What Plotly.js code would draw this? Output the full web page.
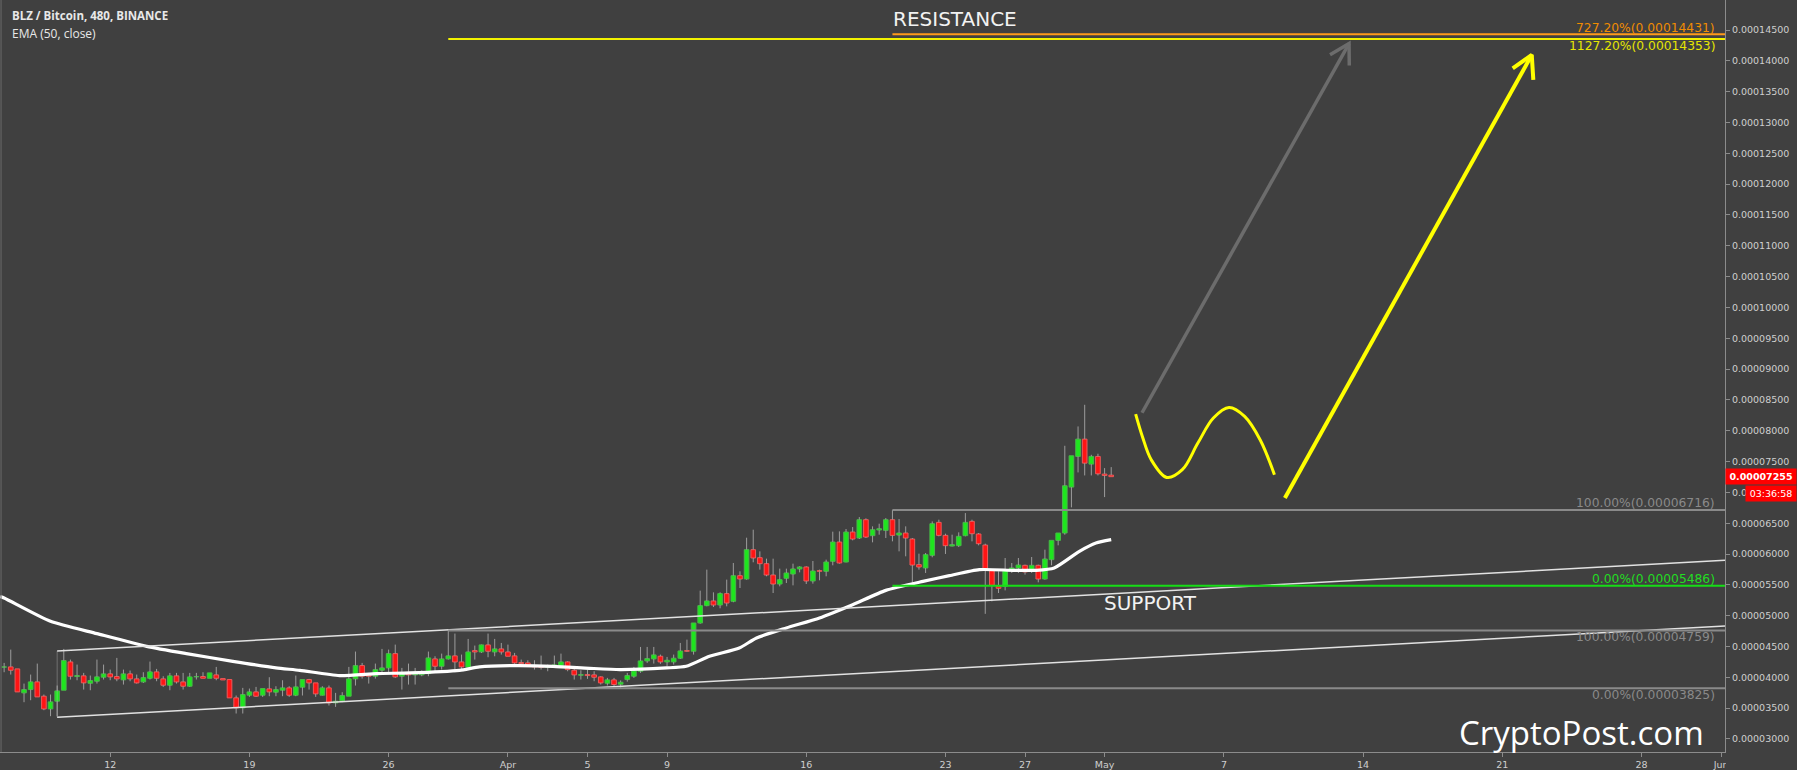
<!DOCTYPE html>
<html><head><meta charset="utf-8">
<script src="https://cdn.plot.ly/plotly-3.0.1.min.js"></script>
<style>html,body{margin:0;padding:0;background:#404040;}#chart{width:1797px;height:770px;}</style>
</head><body><div id="chart"></div>
<script>
// ---------- DATA (prices in satoshi = 1e-8 BTC) ----------
const candleStart = '2018-03-06T16:00:00Z';   // first visible 480-minute candle
const candleHours = 8;
const opens = [4165,4169,4137,3748,3802,3926,3694,3488,3613,3791, 4250,4013,4024,3904,3937,4002,4056,4013,3959,4056,
 3975,3926,3985,4088,3975,3872,4024,3926,3856,4008, 4013,3985,4040,3980,3964,3667,3505,3710,3764,3710,
 3813,3759,3791,3829,3710,3840,3964,3910,3710,3829, 3586,3618,3694,3975,4191,4045,4018,4115,4153,4385,
 4018,4072,4040,4040,4061,4299,4180,4299,4348,4250, 4164,4434,4412,4526,4412,4461,4412,4348,4240,4234,
 4191,4180,4164,4169,4191,4250,4115,4034,4045,4040, 4007,3904,3959,3888,3964,4018,4099,4266,4299,4342,
 4250,4250,4310,4434,4423,4882,5163,5239,5174,5358, 5233,5649,5595,6071,5941,5844,5660,5514,5606,5676,
 5758,5790,5563,5731,5720,5882,6195,5871,6357,6260, 6557,6298,6390,6384,6557,6308,6341,6244,5828,5774,
 5979,6514,6303,6130,6136,6298,6530,6325,6146,5747, 5476,5476,5747,5774,5817,5720,5817,5595,5909,6222,
 6341,7086,7583,7864,7459,7583,7297,7280];
const highs = [4234,4450,4137,3899,4045,4223,3721,3721,3867,4461, 4288,4207,4072,4029,4288,4207,4126,4315,4126,4110,
 4045,4083,4256,4137,4018,4072,4072,4072,4072,4072, 4083,4072,4169,3980,3964,3705,3829,3818,3845,3818,
 4002,3856,3953,3856,4029,3964,3975,3910,3856,3867, 3748,3759,4169,4418,4234,4072,4223,4461,4450,4531,
 4153,4223,4153,4115,4418,4342,4385,4759,4710,4369, 4623,4515,4531,4710,4623,4558,4531,4396,4288,4277,
 4277,4353,4207,4353,4385,4261,4153,4115,4126,4099, 4018,3991,3991,3950,4072,4169,4493,4493,4493,4369,
 4331,4369,4558,4612,4882,5406,5747,5379,5379,5585, 5855,5720,6265,6395,6044,5925,5925,5763,5763,5844,
 5801,5801,5887,5747,5909,6363,6368,6406,6438,6600, 6579,6449,6492,6584,6716,6568,6449,6260,6006,6017,
 6530,6557,6330,6314,6352,6665,6557,6341,6168,5758, 5720,5936,5855,5936,5828,5952,5828,6071,6222,6341,
 7756,7594,8070,8421,7610,7627,7394,7410];
const lows = [4083,4045,3764,3597,3629,3683,3467,3370,3370,3791, 3964,3953,3802,3791,3899,3964,3953,3937,3883,3937,
 3899,3910,3964,3937,3845,3791,3899,3802,3845,3964, 3985,3985,3953,3958,3667,3413,3413,3683,3683,3683,
 3694,3694,3694,3683,3694,3705,3802,3683,3705,3543, 3521,3597,3694,3867,3980,3899,3980,4072,4072,3991,
 3802,3883,3883,4018,4018,4072,4126,4288,4083,4126, 4137,4288,4396,4326,4342,4369,4342,4191,4207,4169,
 4126,4126,4099,4153,4169,4099,3964,3964,3975,3937, 3883,3867,3856,3825,3930,3991,4072,4234,4223,4218,
 4180,4207,4299,4412,4369,4871,5152,5141,5120,5152, 5217,5449,5585,5866,5747,5639,5368,5476,5530,5492,
 5703,5514,5520,5574,5639,5817,5844,5866,6222,6244, 6260,6190,6314,6260,6206,6044,5963,5520,5747,5693,
 5947,6287,6001,6125,6114,6287,6206,6141,5030,5233, 5368,5411,5693,5693,5666,5693,5541,5585,5817,6141,
 6314,6757,7324,7275,7275,7275,6924,7255];
const closes = [4170,4115,3764,3802,3926,3683,3488,3602,3780,4272, 4018,4029,3910,3948,4008,4056,4007,3975,4056,3975,
 3910,3996,4088,3985,3872,4024,3926,3856,4007,4013, 3985,4072,3985,3958,3667,3505,3721,3764,3694,3818,
 3764,3802,3829,3710,3845,3964,3910,3732,3829,3586, 3613,3705,3975,4191,4018,4018,4126,4153,4385,4007,
 4072,4040,4061,4061,4315,4180,4299,4348,4250,4169, 4412,4412,4526,4423,4461,4412,4342,4234,4223,4180,
 4169,4164,4180,4202,4250,4126,4040,4045,4029,4002, 3910,3959,3883,3921,4029,4105,4266,4304,4364,4250,
 4277,4310,4428,4423,4882,5163,5239,5174,5358,5206, 5649,5595,6071,5936,5844,5660,5514,5585,5693,5758,
 5790,5563,5725,5720,5871,6195,5855,6357,6244,6557, 6276,6395,6411,6557,6303,6341,6260,5822,5790,5990,
 6492,6303,6136,6152,6287,6514,6330,6168,5763,5493, 5444,5736,5774,5822,5709,5817,5595,5919,6222,6341,
 7108,7594,7864,7475,7583,7302,7275,7255];

// EMA(50, close) at candle positions (index may be fractional)
const emaIdx = [-0.6,0,7,14,21.5,27.5,34.5,41,44.6,50.6,56.2,61.2,68.7,71.7,76.8,82.8,88.3,92.9,99.9,102.9,
 106.4,110.9,113.5,118,123,128,133,138.6,142.6,147.1,152.2,155.7,158.4,162.2,164.7,167];
const emaSat = [5311,5287,4909,4709,4503,4385,4260,4153,4114,4028,4061,4072,4114,4169,4190,4179,4147,4126,4153,4179,
 4341,4477,4639,4801,4964,5179,5411,5557,5649,5747,5736,5736,5774,6044,6179,6233];

// axis window and ticks
const xWindow = ['2018-03-06T11:01', '2018-06-01T04:43'];
const yWindowSat = [2789, 14987];
const tickDates = ['2018-03-12','2018-03-19','2018-03-26','2018-04-01','2018-04-05','2018-04-09','2018-04-16',
 '2018-04-23','2018-04-27','2018-05-01','2018-05-07','2018-05-14','2018-05-21','2018-05-28','2018-06-01'];
const tickLabels = ['12','19','26','Apr','5','9','16','23','27','May','7','14','21','28','Jun'];

// drawings
const channelT = ['2018-03-09T08:00', '2018-06-01T04:43'];
const channelUpper = [4427, 5898];
const channelLower = [3352, 4833];
const fib1Start = '2018-03-29T00:00';
const fib1Levels = [3825, 4759, 14353];
const fib1Names = ['0.00%','100.00%','1127.20%'];
const fib2Start = '2018-04-20T08:00';
const fib2Levels = [5486, 6716, 14431];
const fib2Names = ['0.00%','100.00%','727.20%'];
const grayArrowT = ['2018-05-02T21:12','2018-05-13T07:00'];
const grayArrowV = [8292, 14281];
const grayHeadT = ['2018-05-12T08:06','2018-05-13T07:00','2018-05-13T07:18'];
const grayHeadV = [14099, 14281, 13924];
const yellowArrowT = ['2018-05-10T01:36','2018-05-22T11:30'];
const yellowArrowV = [6909, 14095];
const yellowHeadT = ['2018-05-21T12:30','2018-05-22T11:30','2018-05-22T13:24'];
const yellowHeadV = [13879, 14095, 13690];
const curveT = ['2018-05-02T13:30','2018-05-02T21:36','2018-05-03T08:18','2018-05-04T03:00','2018-05-04T21:48',
 '2018-05-05T16:36','2018-05-06T11:18','2018-05-07T06:12','2018-05-08T01:00','2018-05-08T19:42','2018-05-09T13:00'];
const curveV = [8270,7908,7530,7243,7368,7800,8206,8377,8232,7854,7287];

// ---------- BUILD ----------
const SAT = v => v / 1e8;
const t0 = Date.parse(candleStart);
const toTime = i => new Date(t0 + i * candleHours * 3600e3).toISOString().slice(0, 19);
const times = opens.map((_, i) => toTime(i));

const UP = '#1ee61e', UPLINE = '#49b649', DN = '#ff1414', DNLINE = '#ec5a5a', WICK = '#9c9c9c';

// wick segments (above and below the body)
const wx = [], wy = [];
opens.forEach((o, i) => {
  const top = Math.max(o, closes[i]), bot = Math.min(o, closes[i]);
  wx.push(times[i], times[i], null, times[i], times[i], null);
  wy.push(SAT(highs[i]), SAT(top), null, SAT(bot), SAT(lows[i]), null);
});

const traces = [
  { type: 'bar', x: times, base: opens.map((o, i) => SAT(Math.min(o, closes[i]))),
    y: opens.map((o, i) => SAT(Math.abs(closes[i] - o))),
    width: candleHours * 3600e3 * 0.7,
    marker: { color: opens.map((o, i) => closes[i] >= o ? UP : DN),
              line: { color: opens.map((o, i) => closes[i] >= o ? UPLINE : DNLINE), width: 1 } },
    hoverinfo: 'skip' },
  { type: 'scatter', mode: 'lines', x: wx, y: wy, line: { color: WICK, width: 1 }, connectgaps: false, hoverinfo: 'skip' },
  { type: 'scatter', mode: 'lines', x: emaIdx.map(toTime), y: emaSat.map(SAT),
    line: { color: '#ffffff', width: 3.2, shape: 'spline', smoothing: 0.6 }, hoverinfo: 'skip' },
  { type: 'scatter', mode: 'lines', x: curveT, y: curveV.map(SAT),
    line: { color: '#ffff00', width: 3, shape: 'spline', smoothing: 1 }, hoverinfo: 'skip' },
  { type: 'scatter', mode: 'lines', x: grayArrowT, y: grayArrowV.map(SAT), line: { color: '#6c6c6c', width: 3.5 }, hoverinfo: 'skip' },
  { type: 'scatter', mode: 'lines', x: grayHeadT, y: grayHeadV.map(SAT), line: { color: '#6c6c6c', width: 3.5 }, hoverinfo: 'skip' },
  { type: 'scatter', mode: 'lines', x: yellowArrowT, y: yellowArrowV.map(SAT), line: { color: '#ffff00', width: 4 }, hoverinfo: 'skip' },
  { type: 'scatter', mode: 'lines', x: yellowHeadT, y: yellowHeadV.map(SAT), line: { color: '#ffff00', width: 4 }, hoverinfo: 'skip' }
];

const shapes = [];
// channel fill (below traces)
shapes.push({ type: 'path', layer: 'below', xref: 'x', yref: 'y',
  path: `M ${channelT[0]},${SAT(channelUpper[0])} L ${channelT[1]},${SAT(channelUpper[1])} L ${channelT[1]},${SAT(channelLower[1])} L ${channelT[0]},${SAT(channelLower[0])} Z`,
  fillcolor: 'rgba(255,255,255,0.045)', line: { width: 0 } });
shapes.push({ type: 'line', layer: 'above', xref: 'x', yref: 'y', x0: channelT[0], x1: channelT[0],
  y0: SAT(channelUpper[0]), y1: SAT(channelLower[0]), line: { color: 'rgba(200,200,200,0.35)', width: 1 } });
[channelUpper, channelLower].forEach(c => shapes.push({ type: 'line', layer: 'above', xref: 'x', yref: 'y',
  x0: channelT[0], x1: channelT[1], y0: SAT(c[0]), y1: SAT(c[1]), line: { color: '#e2e2e2', width: 1.5 } }));

const fib1Colors = ['#8a8a8a', '#8a8a8a', '#f2f200'];
const fib1Text = ['#8a8a8a', '#8a8a8a', '#e6e600'];
const fib2Colors = ['#16dd16', '#8a8a8a', '#ff9a1a'];
const fib2Text = ['#22dd22', '#8a8a8a', '#f08c00'];
const annotations = [];
const fibLabel = (name, lvl, color, above) => annotations.push({
  xref: 'paper', yref: 'y', x: 1716.7 / 1725, y: SAT(lvl), xanchor: 'right', yanchor: 'middle',
  yshift: above ? 6.6 : -6.6, showarrow: false, text: `${name}(${SAT(lvl).toFixed(8)})`,
  font: { family: 'DejaVu Sans', size: 12.3, color: color } });
fib1Levels.forEach((lvl, k) => {
  shapes.push({ type: 'line', layer: 'above', xref: 'x', yref: 'y', x0: fib1Start, x1: xWindow[1], y0: SAT(lvl), y1: SAT(lvl),
    line: { color: fib1Colors[k], width: 2 } });
  fibLabel(fib1Names[k], lvl, fib1Text[k], false);
});
fib2Levels.forEach((lvl, k) => {
  shapes.push({ type: 'line', layer: 'above', xref: 'x', yref: 'y', x0: fib2Start, x1: xWindow[1], y0: SAT(lvl), y1: SAT(lvl),
    line: { color: fib2Colors[k], width: 2 } });
  fibLabel(fib2Names[k], lvl, fib2Text[k], true);
});
// thin left frame line
shapes.push({ type: 'line', xref: 'paper', yref: 'paper', x0: 0.0006, x1: 0.0006, y0: 0, y1: 1, line: { color: '#6a6a6a', width: 1 } });
// the last date label is cut by the price-scale column, as in the reference
shapes.push({ type: 'rect', layer: 'above', xref: 'paper', yref: 'paper', x0: 1726 / 1725, x1: 1797 / 1725,
  y0: -18 / 752, y1: -1.5 / 752, fillcolor: '#404040', line: { width: 0 } });

const lastClose = closes[closes.length - 1];
annotations.push(
  { xref: 'paper', yref: 'paper', x: 10 / 1725, y: 1 - 15.3 / 752, xanchor: 'left', yanchor: 'middle', showarrow: false,
    text: '<b>BLZ / Bitcoin, 480, BINANCE</b>', font: { family: 'Open Sans', size: 11.5, color: '#e8e8e8' } },
  { xref: 'paper', yref: 'paper', x: 10 / 1725, y: 1 - 33.3 / 752, xanchor: 'left', yanchor: 'middle', showarrow: false,
    text: 'EMA (50, close)', font: { family: 'Open Sans', size: 12, color: '#e8e8e8' } },
  { xref: 'paper', yref: 'paper', x: 955 / 1725, y: 1 - 19.5 / 752, xanchor: 'center', yanchor: 'middle', showarrow: false,
    text: 'RESISTANCE', font: { family: 'DejaVu Sans', size: 20, color: '#f2f2f2' } },
  { xref: 'paper', yref: 'paper', x: 1150 / 1725, y: 1 - 602.5 / 752, xanchor: 'center', yanchor: 'middle', showarrow: false,
    text: 'SUPPORT', font: { family: 'DejaVu Sans', size: 20, color: '#f2f2f2' } },
  { xref: 'paper', yref: 'paper', x: 1581 / 1725, y: 1 - 732.5 / 752, xanchor: 'center', yanchor: 'middle', showarrow: false,
    text: 'CryptoPost.com', font: { family: 'Open Sans', size: 33, color: '#ffffff' } },
  { xref: 'paper', yref: 'y', x: 1, y: SAT(lastClose), xanchor: 'left', yanchor: 'middle', showarrow: false,
    text: '<b>' + SAT(lastClose).toFixed(8) + '</b>', bgcolor: '#ff0000', borderpad: 2, width: 66, align: 'center',
    font: { family: 'DejaVu Sans', size: 9.5, color: '#ffffff' } },
  { xref: 'paper', yref: 'y', x: 1, xshift: 20, y: SAT(lastClose), yshift: -17, xanchor: 'left', yanchor: 'middle', showarrow: false,
    text: '03:36:58', bgcolor: '#ff0000', borderpad: 2, width: 46, align: 'center',
    font: { family: 'DejaVu Sans', size: 9.5, color: '#ffffff' } }
);

const axisFont = { family: 'DejaVu Sans', size: 9.5, color: '#cfcfcf' };
const layout = {
  width: 1797, height: 770,
  margin: { l: 0, r: 72, t: 0, b: 18, pad: 0 },
  paper_bgcolor: '#404040', plot_bgcolor: '#404040',
  showlegend: false, hovermode: false, barmode: 'overlay',
  xaxis: { type: 'date', range: xWindow, tickmode: 'array', tickvals: tickDates, ticktext: tickLabels,
    showgrid: false, zeroline: false, showline: true, linecolor: '#8c8c8c', linewidth: 1,
    ticks: 'outside', ticklen: 4, tickcolor: '#8c8c8c', tickfont: axisFont, automargin: false, fixedrange: true,
    rangeslider: { visible: false } },
  yaxis: { side: 'right', range: yWindowSat.map(SAT), tick0: 0, dtick: 0.000005, tickformat: '.8f',
    showgrid: false, zeroline: false, showline: true, linecolor: '#8c8c8c', linewidth: 1,
    ticks: 'outside', ticklen: 4, tickcolor: '#8c8c8c', tickfont: axisFont, automargin: false, fixedrange: true },
  shapes: shapes, annotations: annotations
};
Plotly.newPlot('chart', traces, layout, { displayModeBar: false, staticPlot: true });
</script></body></html>
